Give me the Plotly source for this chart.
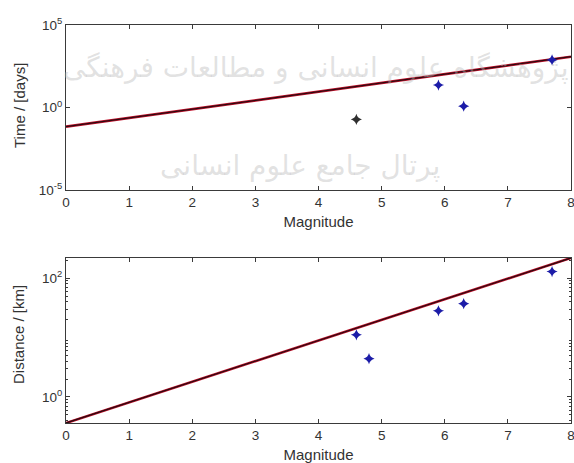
import plotly.graph_objects as go

# Fitted scaling lines (endpoints at magnitude 0 and 8)
fit_mag = [0, 8]
fit_time = [0.069, 1200]
fit_dist = [0.363, 219]

# Observed events
time_mag_black = [4.6]
time_val_black = [0.19]
time_mag = [5.9, 6.3, 7.7]
time_val = [23, 1.2, 760]

dist_mag = [4.6, 4.8, 5.9, 6.3, 7.7]
dist_val = [11.1, 4.4, 28.2, 37.2, 129]

x_ticks = [0, 1, 2, 3, 4, 5, 6, 7, 8]
time_tickvals = [1e-5, 1e0, 1e5]
time_ticktext = ["10<sup>-5</sup>", "10<sup>0</sup>", "10<sup>5</sup>"]
dist_tickvals = [1e0, 1e2]
dist_ticktext = ["10<sup>0</sup>", "10<sup>2</sup>"]
dist_minor = [0.4, 0.5, 0.6, 0.7, 0.8, 0.9, 2, 3, 4, 5, 6, 7, 8, 9,
              20, 30, 40, 50, 60, 70, 80, 90, 200]

W, H = 574, 463
FONT = "Liberation Sans, Arial, sans-serif"
AX = "#3a3a3a"
TXT = "#333333"
TICK_SIZE = 13.5
LABEL_SIZE = 15
WM_COLOR = "rgba(185,185,185,0.42)"

fig = go.Figure()

def add_fit(yvals, xa, ya):
    fig.add_trace(go.Scatter(x=fit_mag, y=yvals, mode="lines",
                             line=dict(color="#c0102a", width=2.6),
                             xaxis=xa, yaxis=ya, showlegend=False))
    fig.add_trace(go.Scatter(x=fit_mag, y=yvals, mode="lines",
                             line=dict(color="#2a0a10", width=1.3),
                             xaxis=xa, yaxis=ya, showlegend=False))

MK = dict(symbol="star-diamond", size=8)

add_fit(fit_time, "x", "y")
fig.add_trace(go.Scatter(x=time_mag_black, y=time_val_black, mode="markers",
                         marker=dict(color="#303030", **MK),
                         xaxis="x", yaxis="y", showlegend=False))
fig.add_trace(go.Scatter(x=time_mag, y=time_val, mode="markers",
                         marker=dict(color="#1c1ca8", **MK),
                         xaxis="x", yaxis="y", showlegend=False))

add_fit(fit_dist, "x2", "y2")
fig.add_trace(go.Scatter(x=dist_mag, y=dist_val, mode="markers",
                         marker=dict(color="#1c1ca8", **MK),
                         xaxis="x2", yaxis="y2", showlegend=False))

x0, x1 = 66 / W, 571 / W

def ydom(top, bottom):
    return [(H - bottom) / H, (H - top) / H]

common_x = dict(range=[0, 8], tickvals=x_ticks, ticks="inside", ticklen=4,
                tickcolor=AX, showline=True, linecolor=AX, linewidth=1.2,
                mirror="ticks", showgrid=False, zeroline=False,
                automargin=False, ticklabeloverflow="allow",
                tickfont=dict(family=FONT, size=TICK_SIZE, color=TXT),
                title=dict(text="Magnitude", standoff=7,
                           font=dict(family=FONT, size=LABEL_SIZE, color=TXT)))
common_y = dict(type="log", ticks="inside", ticklen=4, tickcolor=AX,
                showline=True, linecolor=AX, linewidth=1.2, mirror="ticks",
                showgrid=False, zeroline=False, automargin=False,
                tickfont=dict(family=FONT, size=TICK_SIZE, color=TXT))

fig.update_layout(
    width=W, height=H,
    margin=dict(l=0, r=0, t=0, b=0),
    paper_bgcolor="white", plot_bgcolor="white",
    xaxis=dict(domain=[x0, x1], anchor="y", **common_x),
    yaxis=dict(domain=ydom(25, 190), anchor="x", range=[-5, 5],
               tickvals=time_tickvals, ticktext=time_ticktext, **common_y),
    xaxis2=dict(domain=[x0, x1], anchor="y2", **common_x),
    yaxis2=dict(domain=ydom(258, 423), anchor="x2", range=[-0.44, 2.34],
                tickvals=dist_tickvals, ticktext=dist_ticktext,
                minor=dict(tickvals=dist_minor, ticks="inside", ticklen=2,
                           tickcolor=AX),
                **common_y),
)

# vertical axis titles
for label, yc in (("Time / [days]", 106), ("Distance / [km]", 335)):
    fig.add_annotation(text=label, x=19 / W, y=(H - yc) / H,
                       xref="paper", yref="paper", textangle=-90,
                       xanchor="center", yanchor="middle", showarrow=False,
                       font=dict(family=FONT, size=LABEL_SIZE, color=TXT))

# faint publisher watermark
fig.add_annotation(text="پژوهشگاه علوم انسانی و مطالعات فرهنگی",
                   x=315 / W, y=(H - 68) / H, xref="paper", yref="paper",
                   xanchor="center", yanchor="middle", showarrow=False,
                   font=dict(family="DejaVu Sans", size=28, color=WM_COLOR))
fig.add_annotation(text="پرتال جامع علوم انسانی",
                   x=300 / W, y=(H - 165) / H, xref="paper", yref="paper",
                   xanchor="center", yanchor="middle", showarrow=False,
                   font=dict(family="DejaVu Sans", size=28, color=WM_COLOR))

fig.write_html("out.html")
